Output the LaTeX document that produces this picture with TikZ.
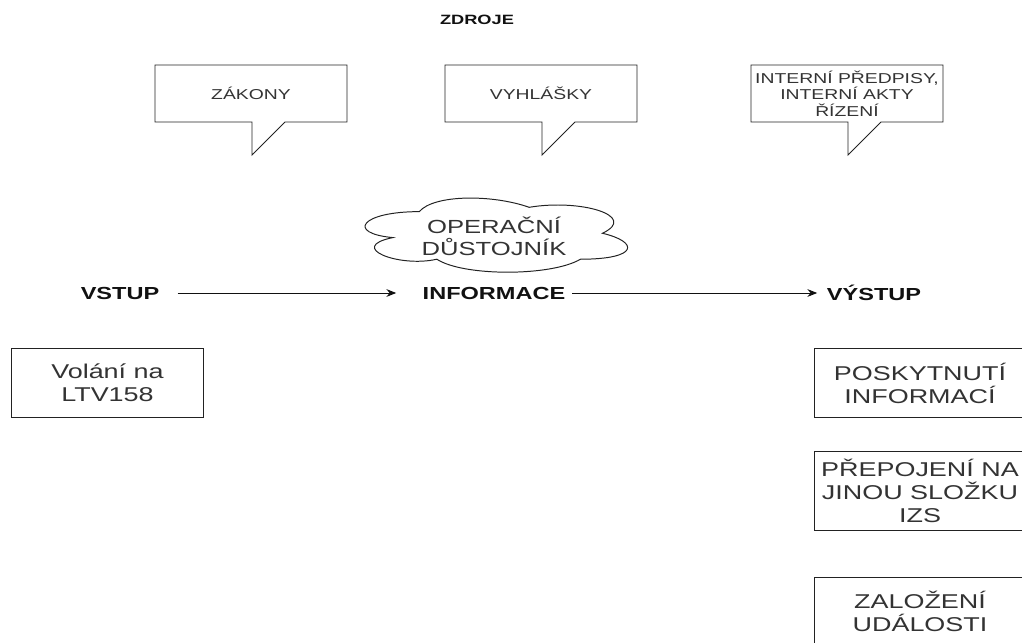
\documentclass[tikz,border=0pt]{standalone}
\usepackage{fontspec}
\setmainfont{Liberation Sans}[FakeStretch=1.35]
\usetikzlibrary{arrows.meta}
\definecolor{ink}{HTML}{111111}
\definecolor{txt}{HTML}{333333}
\definecolor{edge}{HTML}{222222}

\begin{document}
\begin{tikzpicture}[x=0.025cm,y=-0.025cm,text=txt,line width=0.7pt,
  bubble/.style={draw=edge,line join=miter},
  bubbletext/.style={align=center,inner sep=0pt,
    font=\fontsize{10.2}{11.7}\selectfont},
  label/.style={inner sep=0pt,text=ink,
    font=\fontsize{12.4}{14}\selectfont\bfseries},
  box/.style={draw=edge,align=center,minimum height=1.7cm,
    font=\fontsize{14.2}{16.4}\selectfont},
  flow/.style={draw=ink,-{Stealth[length=7pt,width=5.5pt]}}]
  \useasboundingbox (0,0) rectangle (1022,643);

  \node[inner sep=0pt,text=ink,font=\fontsize{9.6}{11}\selectfont\bfseries]
    (zdroje) at (477,20) {ZDROJE};

  \foreach \cx/\cname/\ctext in {155/zakony/{ZÁKONY},
      445/vyhlasky/{VYHLÁŠKY},
      751/predpisy/{INTERNÍ PŘEDPISY,\\INTERNÍ AKTY\\ŘÍZENÍ}}{
    \draw[bubble] (\cx,65) -- (\cx+192,65) -- (\cx+192,122)
      -- (\cx+130,122) -- (\cx+97,155) -- (\cx+97,122)
      -- (\cx,122) -- cycle;
    \node[bubbletext] (\cname) at (\cx+96,93.5) {\ctext};
  }

  \begin{scope}[shift={(346,190)},x=7.325cm,y=-2.1625cm]
    \draw[edge] (0.25,0.25) .. controls (0.05,0.25) and (0,0.5) .. (0.16,0.55)
      .. controls (0,0.66) and (0.18,0.9) .. (0.31,0.8)
      .. controls (0.4,1) and (0.7,1) .. (0.8,0.8)
      .. controls (1,0.8) and (1,0.6) .. (0.875,0.5)
      .. controls (1,0.3) and (0.8,0.1) .. (0.625,0.2)
      .. controls (0.5,0.05) and (0.3,0.05) .. (0.25,0.25) -- cycle;
  \end{scope}
  \node[align=center,inner sep=0pt,font=\fontsize{13.5}{15.6}\selectfont]
    (dustojnik) at (494,236) {OPERAČNÍ\\DŮSTOJNÍK};

  \node[label] (vstup) at (120,293) {VSTUP};
  \node[label] (informace) at (494,293) {INFORMACE};
  \node[label] (vystup) at (874,293) {VÝSTUP};
  \draw[flow,shorten <=0.45cm,shorten >=0.65cm] (vstup) -- (informace);
  \draw[flow,shorten <=0.16cm,shorten >=0.23cm] (informace) -- (vystup);

  \node[box,minimum width=4.78cm] (volani) at (107.5,383) {Volání na\\LTV158};
  \node[box,minimum width=5.25cm] (poskytnuti) at (920,383)
    {POSKYTNUTÍ\\INFORMACÍ};
  \node[box,minimum width=5.25cm,minimum height=1.95cm] (prepojeni)
    at (920,491) {PŘEPOJENÍ NA\\JINOU SLOŽKU\\IZS};
  \node[box,minimum width=5.25cm] (zalozeni) at (920,611)
    {ZALOŽENÍ\\UDÁLOSTI};
\end{tikzpicture}
\end{document}
